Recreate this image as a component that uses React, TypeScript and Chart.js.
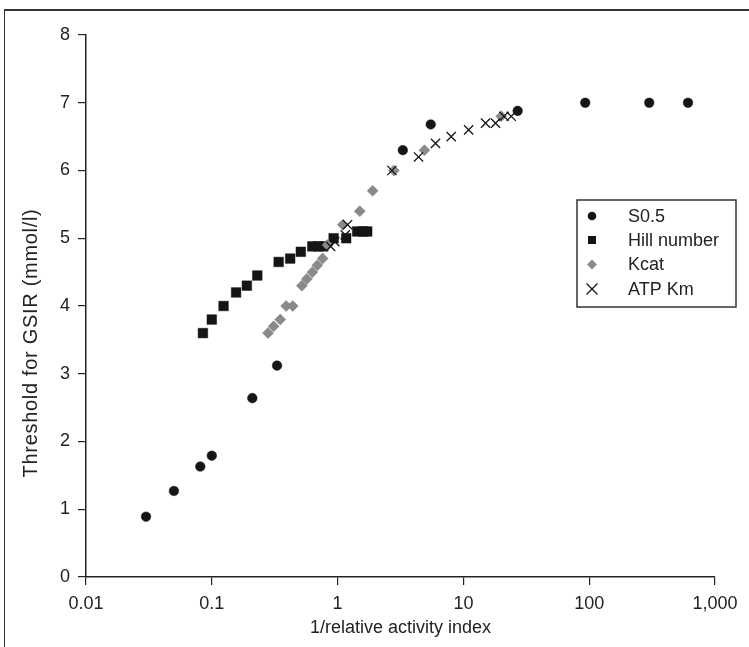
import React, { useEffect, useRef } from "react";
import { Chart, registerables } from "chart.js";

Chart.register(...registerables);

// ---- Data ----
const s05X = [0.03, 0.05, 0.081, 0.1, 0.21, 0.33, 3.3, 5.5, 27, 93, 300, 610];
const s05Y = [0.89, 1.27, 1.63, 1.79, 2.64, 3.12, 6.3, 6.68, 6.88, 7.0, 7.0, 7.0];

const hillX = [0.085, 0.1, 0.124, 0.156, 0.19, 0.23, 0.34, 0.42, 0.51, 0.63, 0.7, 0.77, 0.93, 1.17, 1.43, 1.6, 1.72];
const hillY = [3.6, 3.8, 4.0, 4.2, 4.3, 4.45, 4.65, 4.7, 4.8, 4.88, 4.88, 4.88, 5.0, 5.0, 5.1, 5.1, 5.1];

const kcatX = [0.28, 0.31, 0.35, 0.39, 0.44, 0.52, 0.57, 0.63, 0.69, 0.76, 0.83, 1.1, 1.5, 1.9, 2.8, 4.9, 20];
const kcatY = [3.6, 3.7, 3.8, 4.0, 4.0, 4.3, 4.4, 4.5, 4.6, 4.7, 4.9, 5.2, 5.4, 5.7, 6.0, 6.3, 6.8];

const atpX = [0.88, 0.95, 1.15, 1.2, 2.7, 4.4, 6.0, 8.0, 11, 15, 18, 21, 24];
const atpY = [4.88, 4.95, 5.05, 5.2, 6.0, 6.2, 6.4, 6.5, 6.6, 6.7, 6.7, 6.8, 6.8];

const seriesNames = ["S0.5", "Hill number", "Kcat", "ATP Km"];

const xTickValues = [0.01, 0.1, 1, 10, 100, 1000];
const xTickLabels = ["0.01", "0.1", "1", "10", "100", "1,000"];
const yMin = 0;
const yMax = 8;

const xTitle = "1/relative activity index";
const yTitle = "Threshold for GSIR (mmol/l)";

// ---- Styles ----
const DARK = "#151515";
const GREY = "#8a8a8a";
const AXIS = "#222222";
const FONT = "'Liberation Sans', Arial, Helvetica, sans-serif";

const toPoints = (xs: number[], ys: number[]) => xs.map((x, i) => ({ x, y: ys[i] }));

const yTitlePlugin = {
  id: "yTitle",
  afterDraw(chart: any) {
    const ctx = chart.ctx as any;
    ctx.save();
    ctx.translate(31, 343);
    ctx.rotate(-Math.PI / 2);
    ctx.font = `20px ${FONT}`;
    if ("letterSpacing" in ctx) ctx.letterSpacing = "0.7px";
    ctx.fillStyle = "#222";
    ctx.textAlign = "center";
    ctx.textBaseline = "middle";
    ctx.fillText(yTitle, 0, 0);
    ctx.restore();
  },
};

const legendPlugin = {
  id: "boxLegend",
  afterDraw(chart: any) {
    const ctx = chart.ctx as CanvasRenderingContext2D;
    const left = 577;
    const top = 200;
    const w = 159;
    const h = 107;
    ctx.save();
    ctx.strokeStyle = "#333";
    ctx.lineWidth = 1.5;
    ctx.strokeRect(left, top, w, h);
    const mx = left + 15;
    const tx = left + 51;
    const rows = [216, 240, 264.5, 289];
    ctx.font = `18px ${FONT}`;
    ctx.textBaseline = "middle";
    ctx.textAlign = "left";
    rows.forEach((y, i) => {
      ctx.fillStyle = "#222";
      ctx.fillText(seriesNames[i], tx, y + 1);
      ctx.beginPath();
      if (i === 0) {
        ctx.fillStyle = DARK;
        ctx.arc(mx, y, 4.3, 0, Math.PI * 2);
        ctx.fill();
      } else if (i === 1) {
        ctx.fillStyle = DARK;
        ctx.fillRect(mx - 4, y - 4, 8, 8);
      } else if (i === 2) {
        ctx.fillStyle = GREY;
        ctx.moveTo(mx, y - 5);
        ctx.lineTo(mx + 5, y);
        ctx.lineTo(mx, y + 5);
        ctx.lineTo(mx - 5, y);
        ctx.closePath();
        ctx.fill();
      } else {
        ctx.strokeStyle = DARK;
        ctx.lineWidth = 1.3;
        ctx.moveTo(mx - 5.5, y - 5.5);
        ctx.lineTo(mx + 5.5, y + 5.5);
        ctx.moveTo(mx + 5.5, y - 5.5);
        ctx.lineTo(mx - 5.5, y + 5.5);
        ctx.stroke();
      }
    });
    ctx.restore();
  },
};

export default function App() {
  const canvasRef = useRef<HTMLCanvasElement | null>(null);

  useEffect(() => {
    if (!canvasRef.current) return;
    const chart = new Chart(canvasRef.current, {
      type: "scatter",
      data: {
        datasets: [
          {
            label: seriesNames[0],
            data: toPoints(s05X, s05Y),
            pointStyle: "circle",
            pointRadius: 4.8,
            backgroundColor: DARK,
            borderColor: DARK,
            borderWidth: 0.5,
            order: 3,
          },
          {
            label: seriesNames[1],
            data: toPoints(hillX, hillY),
            pointStyle: "rect",
            pointRadius: 6.8,
            backgroundColor: DARK,
            borderColor: DARK,
            borderWidth: 0.5,
            order: 2,
          },
          {
            label: seriesNames[2],
            data: toPoints(kcatX, kcatY),
            pointStyle: "rectRot",
            pointRadius: 5.5,
            backgroundColor: GREY,
            borderColor: "#7c7c7c",
            borderWidth: 0.5,
            order: 1,
          },
          {
            label: seriesNames[3],
            data: toPoints(atpX, atpY),
            pointStyle: "crossRot",
            pointRadius: 6.5,
            backgroundColor: DARK,
            borderColor: DARK,
            borderWidth: 1.3,
            order: 0,
          },
        ],
      },
      options: {
        animation: false,
        responsive: false,
        maintainAspectRatio: false,
        layout: { padding: { left: 0, top: 35, right: 34, bottom: 0 } },
        plugins: {
          legend: { display: false },
          tooltip: { enabled: false },
        },
        scales: {
          x: {
            type: "logarithmic",
            min: xTickValues[0],
            max: xTickValues[xTickValues.length - 1],
            afterBuildTicks: (scale: any) => {
              scale.ticks = xTickValues.map((v) => ({ value: v }));
            },
            afterFit: (scale: any) => {
              scale.height = 70;
            },
            ticks: {
              autoSkip: false,
              maxRotation: 0,
              padding: 8,
              color: "#222",
              font: { family: FONT, size: 18 },
              callback: (value: any) => {
                const idx = xTickValues.findIndex((v) => Math.abs(v - Number(value)) < v * 1e-6);
                return idx >= 0 ? xTickLabels[idx] : "";
              },
            },
            grid: {
              drawOnChartArea: false,
              drawTicks: true,
              tickLength: 8,
              color: AXIS,
              lineWidth: 1.2,
            },
            border: { display: true, color: AXIS, width: 1.5 },
            title: {
              display: true,
              text: xTitle,
              color: "#222",
              font: { family: FONT, size: 18 },
              padding: { top: 0, bottom: 8 },
            },
          },
          y: {
            type: "linear",
            min: yMin,
            max: yMax,
            afterFit: (scale: any) => {
              scale.width = 86;
            },
            ticks: {
              stepSize: 1,
              padding: 8,
              color: "#222",
              font: { family: FONT, size: 18 },
            },
            grid: {
              drawOnChartArea: false,
              drawTicks: true,
              tickLength: 8,
              color: AXIS,
              lineWidth: 1.2,
            },
            border: { display: true, color: AXIS, width: 1.5 },
            title: { display: false },
          },
        },
      },
      plugins: [legendPlugin, yTitlePlugin],
    } as any);
    return () => chart.destroy();
  }, []);

  return (
    <div style={{ position: "fixed", left: 0, top: 0, width: 749, height: 647, background: "#fff", overflow: "hidden" }}>
      <canvas ref={canvasRef} width={749} height={647} style={{ display: "block", width: 749, height: 647 }} />
      <div
        style={{
          position: "absolute",
          left: 4,
          top: 9,
          width: 800,
          height: 700,
          borderTop: "2px solid #333",
          borderLeft: "1.5px solid #333",
          pointerEvents: "none",
        }}
      />
    </div>
  );
}
